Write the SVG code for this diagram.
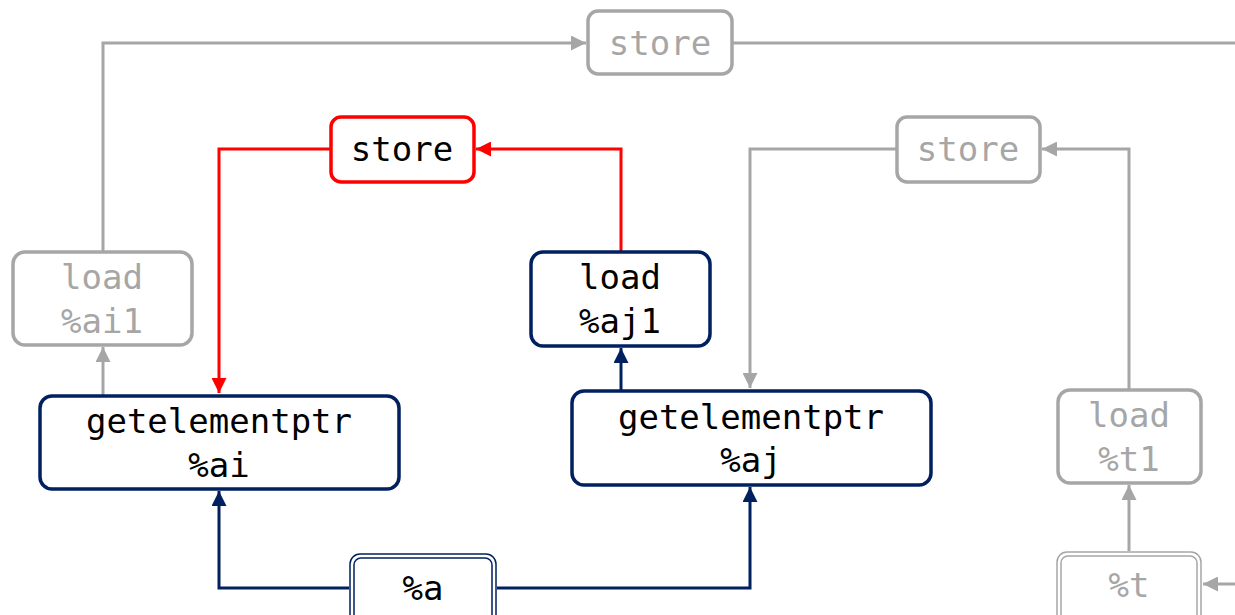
<svg xmlns="http://www.w3.org/2000/svg" width="1235" height="615" viewBox="0 0 1235 615">
<defs>
<style>
.t{font-family:"DejaVu Sans Mono","Liberation Mono",monospace;font-size:34px;text-anchor:middle}
.g{fill:#A6A6A6}
.k{fill:#000}
.bg{fill:#fff;stroke:#A6A6A6;stroke-width:3.5}
.bn{fill:#fff;stroke:#002060;stroke-width:3.5}
.br{fill:#fff;stroke:#FF0000;stroke-width:3.5}
.dn{fill:none;stroke:#002060;stroke-width:1.5}
.dg{fill:none;stroke:#A6A6A6;stroke-width:1.5}
.cg{fill:none;stroke:#A6A6A6;stroke-width:3}
.cn{fill:none;stroke:#002060;stroke-width:3}
.cr{fill:none;stroke:#FF0000;stroke-width:3}
</style>
<marker id="ag" viewBox="0 0 10 10" refX="10" refY="5" markerWidth="5" markerHeight="5" markerUnits="strokeWidth" orient="auto"><path d="M0,0L10,5L0,10z" fill="#A6A6A6"/></marker>
<marker id="an" viewBox="0 0 10 10" refX="10" refY="5" markerWidth="5" markerHeight="5" markerUnits="strokeWidth" orient="auto"><path d="M0,0L10,5L0,10z" fill="#002060"/></marker>
<marker id="ar" viewBox="0 0 10 10" refX="10" refY="5" markerWidth="5" markerHeight="5" markerUnits="strokeWidth" orient="auto"><path d="M0,0L10,5L0,10z" fill="#FF0000"/></marker>
</defs>
<rect width="1235" height="615" fill="#fff"/>
<g id="connectors">
<path class="cg" d="M103,251V43H586" marker-end="url(#ag)"/>
<path class="cg" d="M732,43H1235"/>
<path class="cr" d="M330,149H219V393" marker-end="url(#ar)"/>
<path class="cr" d="M621,251V149H476" marker-end="url(#ar)"/>
<path class="cg" d="M896,149H750V388" marker-end="url(#ag)"/>
<path class="cg" d="M1129,390V149H1042" marker-end="url(#ag)"/>
<path class="cg" d="M103,395V347" marker-end="url(#ag)"/>
<path class="cn" d="M621,391V348" marker-end="url(#an)"/>
<path class="cn" d="M349,588H219V491" marker-end="url(#an)"/>
<path class="cn" d="M497,588H750V487" marker-end="url(#an)"/>
<path class="cg" d="M1129,551V485" marker-end="url(#ag)"/>
<path class="cg" d="M1235,584H1203" marker-end="url(#ag)"/>
</g>
<g id="store_top">
<rect class="bg" x="588" y="11" width="144" height="63" rx="10"/>
<text class="t g" x="660" y="55">store</text>
</g>
<g id="store_red">
<rect class="br" x="331" y="117" width="143" height="65" rx="10"/>
<text class="t k" x="402" y="161">store</text>
</g>
<g id="store_right">
<rect class="bg" x="897" y="117" width="143" height="65" rx="10"/>
<text class="t g" x="968" y="161">store</text>
</g>
<g id="load_ai1">
<rect class="bg" x="13" y="252" width="179" height="93" rx="12"/>
<text class="t g" x="102" y="289">load</text>
<text class="t g" x="102" y="333">%ai1</text>
</g>
<g id="load_aj1">
<rect class="bn" x="531" y="252" width="179" height="94" rx="12"/>
<text class="t k" x="620" y="289">load</text>
<text class="t k" x="620" y="333">%aj1</text>
</g>
<g id="gep_ai">
<rect class="bn" x="40" y="396" width="359" height="93" rx="12"/>
<text class="t k" x="219" y="433">getelementptr</text>
<text class="t k" x="219" y="477">%ai</text>
</g>
<g id="gep_aj">
<rect class="bn" x="572" y="391" width="359" height="94" rx="12"/>
<text class="t k" x="751" y="429">getelementptr</text>
<text class="t k" x="751" y="472">%aj</text>
</g>
<g id="load_t1">
<rect class="bg" x="1058" y="390" width="143" height="93" rx="12"/>
<text class="t g" x="1129" y="427">load</text>
<text class="t g" x="1129" y="471">%t1</text>
</g>
<g id="a">
<rect class="bn" x="350" y="554" width="146" height="80" rx="10" style="stroke-width:1.5"/>
<rect class="dn" x="354" y="558" width="138" height="72" rx="7"/>
<text class="t k" x="423" y="600">%a</text>
</g>
<g id="t">
<rect class="bg" x="1057" y="552" width="144" height="80" rx="10" style="stroke-width:1.5"/>
<rect class="dg" x="1061" y="556" width="136" height="72" rx="7"/>
<text class="t g" x="1129" y="597">%t</text>
</g>
</svg>
